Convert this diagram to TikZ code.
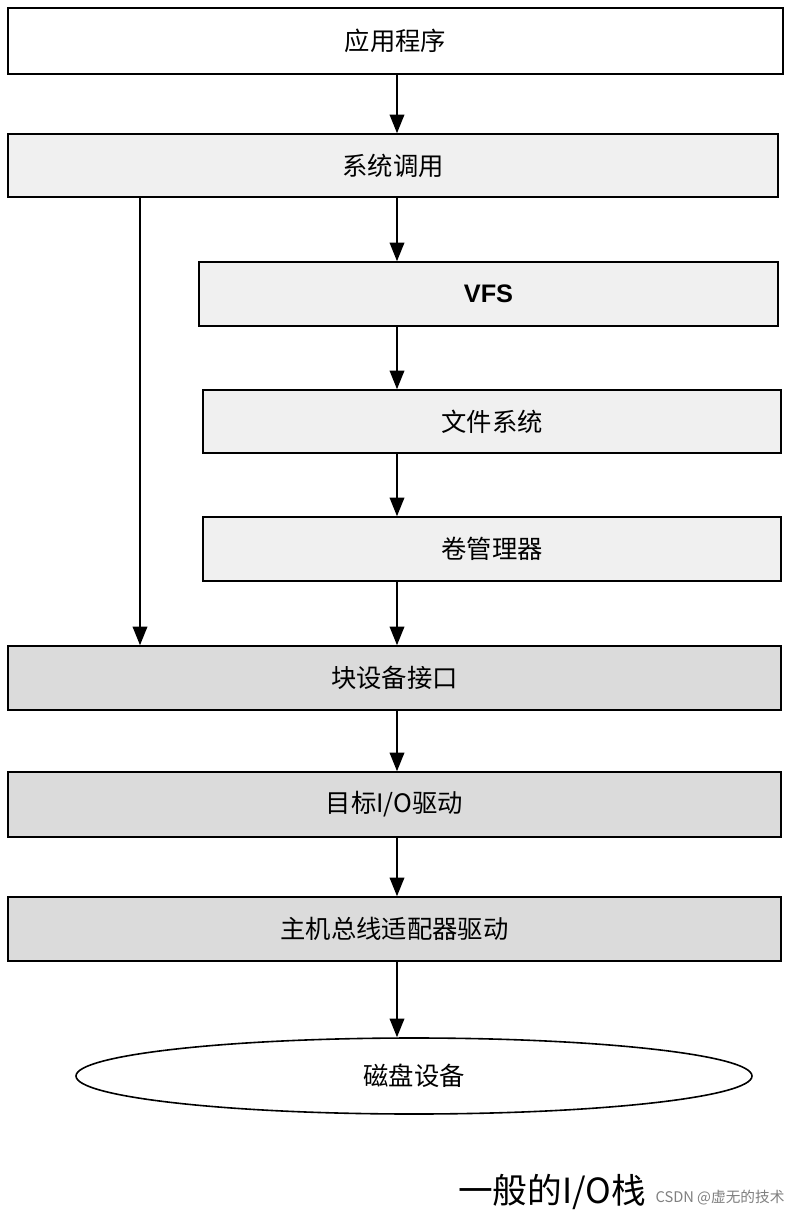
\documentclass[tikz,border=0pt]{standalone}
\usepackage{fontspec}
\setmainfont{Noto Sans CJK SC}
\usetikzlibrary{arrows.meta,shapes.geometric}
\begin{document}
\begin{tikzpicture}[x=0.75pt,y=-0.75pt,
  box/.style={draw,line width=1.2pt,inner sep=0pt,font=\fontsize{19}{22}\selectfont},
  arr/.style={line width=1.2pt,-{Triangle[length=14pt,width=11pt]}}]
\useasboundingbox (0,0) rectangle (798,1216);
\fill[white] (0,0) rectangle (798,1216);
\node[box,fill=white,minimum width=775*0.75pt,minimum height=66*0.75pt] (app) at (395.5,41) {应用程序};
\node[box,fill=gray!12,minimum width=770*0.75pt,minimum height=63*0.75pt] (sys) at (393,165.5) {系统调用};
\node[box,fill=gray!12,minimum width=579*0.75pt,minimum height=64*0.75pt,font=\fontsize{19}{22}\selectfont\fontspec{Liberation Sans}\bfseries] (vfs) at (488.5,294) {VFS};
\node[box,fill=gray!12,minimum width=578*0.75pt,minimum height=63*0.75pt] (fs) at (492,421.5) {文件系统};
\node[box,fill=gray!12,minimum width=578*0.75pt,minimum height=64*0.75pt] (vol) at (492,549) {卷管理器};
\node[box,fill=gray!28,minimum width=773*0.75pt,minimum height=64*0.75pt] (blk) at (394.5,678) {块设备接口};
\node[box,fill=gray!28,minimum width=773*0.75pt,minimum height=65*0.75pt] (tgt) at (394.5,804.5) {目标I/O驱动};
\node[box,fill=gray!28,minimum width=773*0.75pt,minimum height=64*0.75pt] (hba) at (394.5,929) {主机总线适配器驱动};
\node[box,ellipse,fill=white,minimum width=676*0.75pt,minimum height=76*0.75pt] (disk) at (414,1076) {磁盘设备};
\coordinate (c1) at (397,0);
\draw[arr] (app.south -| c1) -- (sys.north -| c1);
\draw[arr] (sys.south -| c1) -- (vfs.north -| c1);
\draw[arr] (vfs.south -| c1) -- (fs.north -| c1);
\draw[arr] (fs.south -| c1) -- (vol.north -| c1);
\draw[arr] (vol.south -| c1) -- (blk.north -| c1);
\draw[arr] (blk.south -| c1) -- (tgt.north -| c1);
\draw[arr] (tgt.south -| c1) -- (hba.north -| c1);
\draw[arr] (hba.south -| c1) -- (disk.north -| c1);
\coordinate (c2) at (140,0);
\draw[arr] (sys.south -| c2) -- (blk.north -| c2);
\node[font=\fontsize{26}{30}\selectfont] (cap) at (552,1192) {一般的I/O栈};
\node[font=\fontsize{11}{13}\selectfont,text=gray] (wm) at (720,1198) {CSDN @虚无的技术};
\end{tikzpicture}
\end{document}
